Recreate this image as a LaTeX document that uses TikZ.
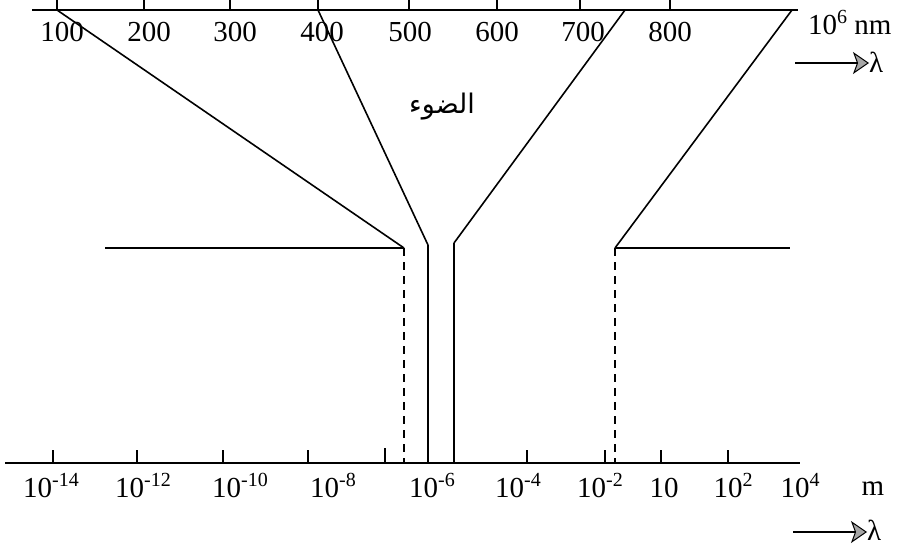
\documentclass[tikz,border=0pt]{standalone}
\usepackage{fontspec}
\setmainfont{Liberation Serif}
\newfontfamily\arabicfont[Script=Arabic]{DejaVu Sans}
\TeXXeTstate=1
\usetikzlibrary{arrows.meta}
\newcommand\mysup[1]{\raisebox{11pt}{\fontsize{20}{22}\selectfont #1}}
\begin{document}
\begin{tikzpicture}[x=1pt,y=-1pt,
  axis/.style={line width=2.2pt},
  tickmark/.style={line width=1.8pt},
  ray/.style={line width=1.6pt},
  vline/.style={line width=2pt},
  dashline/.style={line width=1.8pt, dash pattern=on 8pt off 6pt},
  lab/.style={anchor=base, inner sep=0pt, font=\fontsize{29}{34}\selectfont},
  arr/.style={line width=1.3pt, -{Stealth[length=16pt,width=22pt,inset=4pt,fill=gray!70,line width=1pt]}}
]
\useasboundingbox (0,0) rectangle (897,551);
% top axis
\coordinate (tl) at (32,10);
\coordinate (tr) at (798,10);
\draw[axis] (tl) -- (tr);
\foreach \x/\t in {57/100,144/200,230/300,318/400,409/500,497/600,580/700,670/800}{
  \coordinate (tt\t) at (\x,10);
  \draw[tickmark] (\x,-2) -- (tt\t);
}
\foreach \x/\t in {62/100,149/200,235/300,322/400,410/500,497/600,583/700,670/800}{
  \node[lab] (tl\t) at (\x,42) {\t};
}
\node[lab, anchor=base west] (nm) at (808,35) {10\mysup{6} nm};
\coordinate (ta1) at (795,63);
\node[lab, anchor=base west] (lt) at (869,73) {λ};
\draw[arr] (ta1) -- (lt.west |- ta1);
% bottom axis
\coordinate (bl) at (5,463);
\coordinate (br) at (800,463);
\draw[axis] (bl) -- (br);
\foreach \x/\n in {53/a,137/b,223/c,308/d,527/e,605/f,661/g,728/h}{
  \coordinate (bt\n) at (\x,463);
  \draw[tickmark] (\x,450) -- (bt\n);
}
\coordinate (btm) at (385,463);
\draw[tickmark] (385,448) -- (btm);
\node[lab] (b14) at (51,497) {10\mysup{-14}};
\node[lab] (b12) at (143,497) {10\mysup{-12}};
\node[lab] (b10) at (240,497) {10\mysup{-10}};
\node[lab] (b8) at (333,497) {10\mysup{-8}};
\node[lab] (b6) at (432,497) {10\mysup{-6}};
\node[lab] (b4) at (518,497) {10\mysup{-4}};
\node[lab] (b2) at (600,497) {10\mysup{-2}};
\node[lab] (b1) at (664,497) {10};
\node[lab] (bp2) at (733,497) {10\mysup{2}};
\node[lab] (bp4) at (800,497) {10\mysup{4}};
\node[lab] (m) at (873,495) {m};
\coordinate (ba1) at (793,532);
\node[lab, anchor=base west] (lb) at (867,540) {λ};
\draw[arr] (ba1) -- (lb.west |- ba1);
% key points
\coordinate (p1) at (404,248);
\coordinate (p2) at (428,245);
\coordinate (p3) at (454,243);
\coordinate (p4) at (615,248);
\coordinate (q1) at (404,463);
\coordinate (q2) at (428,463);
\coordinate (q3) at (454,463);
\coordinate (q4) at (615,463);
\coordinate (h1) at (105,248);
\coordinate (h4) at (790,248);
\coordinate (top3) at (625,10);
\coordinate (top4) at (792,10);
% rays
\draw[ray] (tt100) -- (p1);
\draw[ray] (tt400) -- (p2);
\draw[ray] (top3) -- (p3);
\draw[ray] (top4) -- (p4);
\draw[vline] (h1) -- (p1);
\draw[vline] (p4) -- (h4);
\draw[vline] (p2) -- (q2);
\draw[vline] (p3) -- (q3);
\draw[dashline] (p1) -- (q1);
\draw[dashline] (p4) -- (q4);
% label
\node[inner sep=0pt] (light) at (442,107) {\fontsize{27}{30}\selectfont\arabicfont\beginR الضوء\endR};
\end{tikzpicture}
\end{document}
